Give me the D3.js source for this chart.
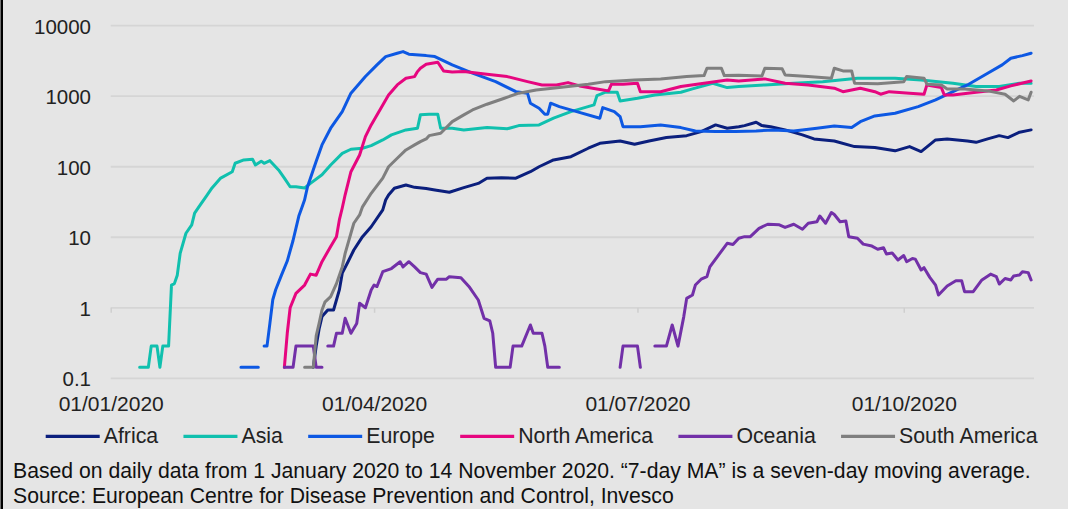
<!DOCTYPE html>
<html>
<head>
<meta charset="utf-8">
<script src="https://cdn.jsdelivr.net/npm/d3@7/dist/d3.min.js"></script>
<style>
  html, body { margin: 0; padding: 0; background: #e5e5e5; }
  svg { display: block; font-family: "Liberation Sans", Arial, sans-serif; }
</style>
</head>
<body>
<svg id="chart" width="1068" height="509"></svg>
<script>
// New COVID-19 cases per day by continent (7-day MA), log scale.
// Each point is [day, value]; day = days since 1 January 2020.
// null marks a stretch with zero cases, which has no place on a log axis.
const seriesNames = ["Africa", "Asia", "Europe", "North America", "Oceania", "South America"];
const seriesColors = ["#0b1f7d", "#10c0ae", "#0d58e3", "#e6067f", "#7230a8", "#7f7f7f"];

const africa = [
  [70,0.143],[71,0.286],[72,0.5],[73,0.75],[75,0.93],[77,0.93],[79,1.79],[80,3.1],[82,4.5],[84,6.6],
  [87,10.2],[90,14.1],[94,24.4],[95,33.8],[96,39.8],[98,49.5],[102,55],[105,51],[109,49],[112,46.8],
  [117,43.5],[122,50.5],[127,58],[130,68.7],[135,70],[140,68.7],[145,85],[148,100],[153,125],[159,139],
  [165,183],[169,215],[176,232],[181,208],[186,232],[192,259],[199,276],[204,315],[209,392],[213,352],
  [217,370],[219,383],[223,428],[225,383],[228,370],[233,333],[239,283],[243,248],[250,232],[257,193],
  [264,188],[271,168],[276,193],[280,164],[285,240],[289,248],[296,232],[299,222],[303,248],[307,276],
  [310,259],[314,309],[318,333]
];
const asia = [
  [10,0.143],[13,0.143],[14,0.286],[16,0.286],[17,0.143],[18,0.286],[20,0.286],[21,2.1],[22,2.2],[23,2.9],
  [24,5.9],[26,11.4],[28,15],[29,22],[31,29],[33,38],[35,50],[38,69],[42,85],[43,112],[46,125],[49,128],
  [50,106],[52,120],[53,112],[55,122],[58,90],[60,69],[62,52],[64,52],[67,50],[69,58],[73,77],[76,106],
  [80,155],[83,177],[87,183],[90,199],[94,240],[97,283],[102,333],[106,352],[107,545],[110,556],[113,556],
  [114,352],[118,352],[122,333],[130,359],[137,345],[141,383],[148,392],[153,488],[159,605],[167,753],
  [168,1020],[171,1140],[175,1140],[176,857],[182,937],[188,1043],[197,1140],[201,1270],[208,1530],
  [213,1325],[217,1370],[226,1446],[236,1530],[246,1610],[258,1800],[271,1800],[280,1700],[291,1530],
  [299,1370],[307,1370],[314,1530],[318,1530]
];
const europe = [
  [45,0.143],[51,0.143],[52,null],[53,0.286],[54,0.286],[55,0.6],[56,1.3],[57,1.8],[59,2.9],[61,4.6],
  [63,9],[65,20],[66,26],[67,34],[68,52],[71,120],[73,204],[76,352],[80,605],[83,1104],[88,1900],
  [92,2780],[95,3650],[99,4075],[101,4290],[103,3945],[109,3765],[112,3650],[118,2780],[125,2120],
  [133,1610],[140,1160],[144,1104],[145,796],[148,676],[150,556],[151,556],[152,796],[155,712],[161,605],
  [169,488],[170,689],[174,605],[176,514],[177,370],[183,370],[190,392],[197,359],[202,322],[209,315],
  [216,315],[223,322],[229,333],[236,322],[244,352],[250,379],[256,359],[259,436],[264,525],[271,574],
  [279,712],[285,887],[291,1160],[296,1446],[303,2120],[308,2780],[311,3460],[315,3765],[318,4075]
];
const northAmerica = [
  [60,0.143],[61,0.435],[62,1.0],[64,1.6],[67,2.1],[69,3.0],[71,2.9],[73,4.5],[76,7.4],[78,10.2],
  [79,17.6],[80,26],[81,40],[83,85],[86,147],[88,267],[90,392],[94,753],[96,1043],[99,1446],[102,1800],
  [105,1897],[106,2234],[107,2495],[109,2845],[113,3035],[115,2285],[118,2200],[122,2234],[130,2050],
  [137,1897],[144,1610],[149,1446],[154,1446],[158,1560],[162,1400],[168,1270],[172,1190],[173,1480],
  [177,1480],[182,1530],[183,1160],[190,1160],[197,1370],[205,1530],[213,1700],[217,1650],[226,1760],
  [233,1530],[241,1446],[250,1300],[253,1160],[259,1300],[264,1160],[266,1067],[269,1160],[276,1104],
  [281,1067],[282,1446],[287,1325],[288,1043],[291,1043],[299,1140],[306,1228],[311,1400],[318,1648]
];
const oceania = [
  [60,0.143],[63,0.143],[64,0.286],[70,0.286],[71,0.143],[73,0.143],[74,null],[75,0.286],[77,0.286],
  [78,0.435],[80,0.435],[81,0.71],[83,0.435],[85,0.6],[86,1.16],[88,1.0],[90,1.79],[91,2.1],[92,2.0],
  [94,3.25],[97,3.6],[100,4.5],[101,3.8],[103,4.5],[105,3.8],[107,3.15],[109,3.0],[111,1.95],[113,2.54],
  [116,2.54],[117,2.76],[121,2.67],[124,1.95],[127,1.29],[129,0.71],[131,0.65],[132,0.435],[133,0.143],
  [138,0.143],[139,0.286],[142,0.286],[145,0.57],[146,0.435],[149,0.435],[150,0.286],[151,0.143],
  [155,0.143],[156,null],[176,0.143],[177,0.286],[182,0.286],[183,0.143],[184,null],[188,0.286],
  [192,0.286],[194,0.57],[196,0.286],[198,0.75],[199,1.36],[201,1.52],[202,2.1],[204,2.54],[206,2.76],
  [207,3.8],[210,5.6],[213,8.2],[215,7.9],[217,9.7],[219,10.2],[221,10.2],[224,13.4],[227,15.3],
  [231,15],[233,13.8],[236,15.3],[239,13],[241,15.8],[244,16.6],[245,20],[247,15.8],[249,22.4],[250,21],
  [252,16.6],[254,17],[255,10.2],[258,9.7],[260,8.0],[263,7.5],[265,6.75],[267,7.1],[268,5.8],[270,6.0],
  [272,4.77],[274,5.5],[275,4.5],[277,5],[278,4.9],[280,3.44],[281,3.7],[283,2.7],[285,2.1],[286,1.52],
  [289,2.04],[292,2.42],[294,2.42],[295,1.69],[298,1.69],[301,2.48],[304,3.0],[306,2.76],[307,2.17],
  [309,2.6],[311,2.48],[312,2.83],[314,2.92],[315,3.25],[317,3.15],[318,2.48]
];
const southAmerica = [
  [67,0.143],[70,0.143],[71,0.4],[72,0.6],[73,0.93],[74,1.2],[76,1.44],[78,2.2],[80,3.8],[81,5.9],
  [83,11.4],[84,15.8],[86,20.7],[87,27],[90,42],[94,69],[96,100],[99,132],[102,173],[105,204],[107,227],
  [109,248],[110,276],[114,299],[118,436],[122,543],[125,639],[130,770],[136,937],[141,1104],[147,1228],
  [155,1325],[165,1480],[171,1610],[181,1700],[190,1760],[199,1897],[205,1960],[206,2495],[211,2495],
  [212,1960],[217,1980],[225,1940],[226,2495],[232,2450],[233,2005],[241,1897],[249,1800],[250,2495],
  [253,2285],[256,2285],[257,1530],[265,1500],[274,1610],[275,1897],[281,1800],[282,1480],[287,1446],
  [289,1270],[295,1270],[303,1190],[309,1067],[312,857],[314,995],[317,887],[318,1140]
];

const yTickValues = [0.1, 1, 10, 100, 1000, 10000];
const yTickLabels = ["0.1", "1", "10", "100", "1000", "10000"];
const xTickDates = ["2020-01-01", "2020-04-01", "2020-07-01", "2020-10-01"];
const footnotes = [
  "Based on daily data from 1 January 2020 to 14 November 2020. \u201c7-day MA\u201d is a seven-day moving average.",
  "Source: European Centre for Disease Prevention and Control, Invesco"
];

const seriesData = [africa, asia, europe, northAmerica, oceania, southAmerica];

const W = 1068, H = 509;
const plot = { left: 110.7, right: 1034, top: 25.7, bottom: 378.3 };
const startDate = new Date(2020, 0, 1);
const dayToDate = d => d3.timeDay.offset(startDate, d);

const svg = d3.select("#chart");

svg.append("rect").attr("width", W).attr("height", H).attr("fill", "#e5e5e5");
svg.append("rect").attr("x", 0.5).attr("y", 0).attr("width", 2.5).attr("height", H).attr("fill", "#000");

const x = d3.scaleTime()
  .domain([startDate, d3.timeDay.offset(startDate, 319)])
  .range([plot.left, plot.right]);
const y = d3.scaleLog()
  .domain([0.1, 10000])
  .range([plot.bottom, plot.top]);

// horizontal gridlines
svg.append("g")
  .selectAll("line")
  .data(yTickValues)
  .join("line")
  .attr("x1", plot.left).attr("x2", plot.right)
  .attr("y1", d => y(d)).attr("y2", d => y(d))
  .attr("stroke", "#d5d5d5").attr("stroke-width", 1.8);

// y axis labels
const yAxis = d3.axisLeft(y)
  .tickValues(yTickValues)
  .tickFormat((d, i) => yTickLabels[i])
  .tickSize(0).tickPadding(0);
const gy = svg.append("g").attr("transform", `translate(91,0)`).call(yAxis);
gy.select(".domain").remove();
gy.selectAll("text").attr("font-size", 20.5).attr("fill", "#222")
  .attr("font-family", "'Liberation Sans', Arial, sans-serif").attr("dy", "0.36em");

// category axis crosses the value axis at 1: tick marks sit on that line
const xTicks = xTickDates.map(s => d3.timeParse("%Y-%m-%d")(s));
const xAxisTicks = d3.axisBottom(x).tickValues(xTicks).tickSize(5).tickFormat("");
const gxt = svg.append("g").attr("transform", `translate(0,${y(1)})`).call(xAxisTicks);
gxt.select(".domain").remove();
gxt.selectAll("line").attr("stroke", "#cfcfcf").attr("stroke-width", 1.5);

// date labels sit below the plot
const xAxisLabels = d3.axisBottom(x).tickValues(xTicks)
  .tickFormat(d3.timeFormat("%d/%m/%Y")).tickSize(0).tickPadding(0);
const gx = svg.append("g").attr("transform", `translate(0,395)`).call(xAxisLabels);
gx.select(".domain").remove();
gx.selectAll("text").attr("font-size", 21).attr("fill", "#222")
  .attr("font-family", "'Liberation Sans', Arial, sans-serif").attr("dy", "0.75em");

// series lines
const line = d3.line()
  .defined(d => d[1] != null)
  .x(d => x(dayToDate(d[0])))
  .y(d => y(d[1]));

svg.append("g")
  .selectAll("path")
  .data(seriesData)
  .join("path")
  .attr("d", d => line(d))
  .attr("fill", "none")
  .attr("stroke", (d, i) => seriesColors[i])
  .attr("stroke-width", 3)
  .attr("stroke-linejoin", "round")
  .attr("stroke-linecap", "round");

// legend
const legend = svg.append("g");
let lx = 45.7;
const legendY = 436.3;
seriesNames.forEach((name, i) => {
  legend.append("line")
    .attr("x1", lx).attr("x2", lx + 54)
    .attr("y1", legendY).attr("y2", legendY)
    .attr("stroke", seriesColors[i]).attr("stroke-width", 3.2);
  const t = legend.append("text")
    .attr("x", lx + 58).attr("y", legendY + 7)
    .attr("font-size", 21.3).attr("fill", "#222")
    .text(name);
  lx += 58 + t.node().getComputedTextLength() + 25.3;
});

// footnotes
svg.append("g")
  .selectAll("text")
  .data(footnotes)
  .join("text")
  .attr("x", 13)
  .attr("y", (d, i) => 478.3 + i * 24.4)
  .attr("font-size", 21.2)
  .attr("fill", "#111")
  .text(d => d);
</script>
</body>
</html>
